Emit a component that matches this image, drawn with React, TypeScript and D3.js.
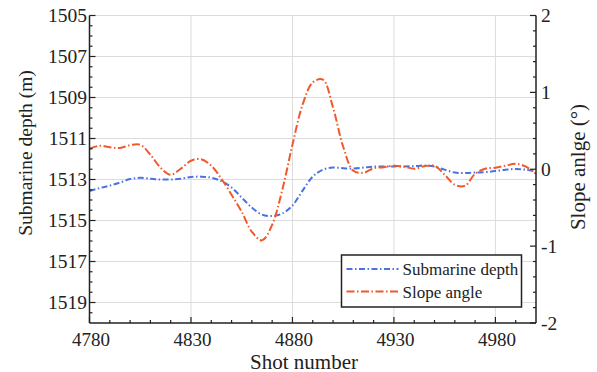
import React from "react";
import * as d3 from "d3";

// Shot numbers sampled every 5 shots along the profile
const shots: number[] = [
  4780, 4785, 4790, 4795, 4800, 4805, 4810, 4815, 4820, 4825,
  4830, 4835, 4840, 4845, 4850, 4855, 4860, 4865, 4870, 4875,
  4880, 4885, 4890, 4895, 4900, 4905, 4910, 4915, 4920, 4925,
  4930, 4935, 4940, 4945, 4950, 4955, 4960, 4965, 4970, 4975,
  4980, 4985, 4990, 4995, 5000,
];

// Submarine depth (m), left axis
const depth: number[] = [
  1513.56, 1513.42, 1513.3, 1513.15, 1512.98, 1512.92, 1512.96, 1513.0, 1513.0, 1512.96,
  1512.88, 1512.86, 1512.91, 1513.08, 1513.39, 1513.88, 1514.37, 1514.71, 1514.78, 1514.66,
  1514.27, 1513.54, 1512.86, 1512.52, 1512.42, 1512.45, 1512.47, 1512.42, 1512.37, 1512.37,
  1512.36, 1512.36, 1512.35, 1512.32, 1512.37, 1512.52, 1512.66, 1512.68, 1512.66, 1512.64,
  1512.59, 1512.52, 1512.49, 1512.52, 1512.62,
];

// Slope angle (°), right axis
const slope: number[] = [
  0.267, 0.306, 0.287, 0.276, 0.313, 0.319, 0.189, 0.02, -0.072, 0.007,
  0.111, 0.13, 0.046, -0.124, -0.332, -0.554, -0.814, -0.925, -0.723, -0.267,
  0.319, 0.84, 1.13, 1.166, 0.801, 0.293, -0.02, -0.046, 0.013, 0.026,
  0.046, 0.033, 0.007, 0.039, 0.046, -0.072, -0.202, -0.215, -0.059, 0.007,
  0.02, 0.046, 0.072, 0.033, -0.059,
];

const xTicks: number[] = [4780, 4830, 4880, 4930, 4980];
const depthTicks: number[] = [1505, 1507, 1509, 1511, 1513, 1515, 1517, 1519];
const slopeTicks: number[] = [2, 1, 0, -1, -2];

const seriesNames: string[] = ["Submarine depth", "Slope angle"];

const W = 597;
const H = 372;
const left = 89.5;
const right = 536;
const top = 15.5;
const bottom = 323;

const FONT = "'Liberation Serif', 'Times New Roman', serif";
const INK = "#222";
const BLUE = "#4a72e0";
const RED = "#f0592a";

export default function App() {
  const x = d3.scaleLinear().domain([4780, 5000]).range([left, right]);
  const yL = d3.scaleLinear().domain([1505, 1520]).range([top, bottom]);
  const yR = d3.scaleLinear().domain([2, -2]).range([top, bottom]);

  const idx = d3.range(shots.length);
  const depthLine = d3
    .line<number>()
    .x((i) => x(shots[i]))
    .y((i) => yL(depth[i]))
    .curve(d3.curveCatmullRom.alpha(0.5));
  const slopeLine = d3
    .line<number>()
    .x((i) => x(shots[i]))
    .y((i) => yR(slope[i]))
    .curve(d3.curveCatmullRom.alpha(0.5));

  const xMinor = d3.range(4790, 5000, 10).filter((v) => (v - 4780) % 50 !== 0);
  const lMinor = d3.range(1505.5, 1520, 0.5).filter((v) => Math.abs(((v - 1505) % 2)) > 1e-6);
  const rMinor = d3.range(-1.8, 2, 0.2).filter((v) => Math.abs(v - Math.round(v)) > 1e-6);

  const legX = 341.5;
  const legY = 255;

  return (
    <svg
      width={W}
      height={H}
      style={{ position: "fixed", left: 0, top: 0, background: "#fff" }}
      fontFamily={FONT}
    >
      <rect width={W} height={H} fill="#fff" />
      {/* grid */}
      {depthTicks.map((t) => (
        <line key={"gh" + t} x1={left} x2={right} y1={yL(t)} y2={yL(t)} stroke="#dcdcdc" strokeWidth={1} />
      ))}
      {xTicks.slice(1).map((t) => (
        <line key={"gv" + t} x1={x(t)} x2={x(t)} y1={top} y2={bottom} stroke="#dcdcdc" strokeWidth={1} />
      ))}

      {/* series */}
      <path
        d={depthLine(idx) || ""}
        fill="none"
        stroke={BLUE}
        strokeWidth={2}
        strokeDasharray="6,2.5,1.5,2.5"
      />
      <path
        d={slopeLine(idx) || ""}
        fill="none"
        stroke={RED}
        strokeWidth={2}
        strokeDasharray="8,2.5,1.5,2.5"
      />

      {/* axes frame */}
      <line x1={left} x2={left} y1={top} y2={bottom} stroke={INK} strokeWidth={1.5} />
      <line x1={right} x2={right} y1={top} y2={bottom} stroke={INK} strokeWidth={1.5} />
      <line x1={left} x2={right} y1={bottom} y2={bottom} stroke={INK} strokeWidth={1.5} />

      {/* x ticks */}
      {xTicks.map((t) => (
        <g key={"xt" + t}>
          <line x1={x(t)} x2={x(t)} y1={bottom} y2={bottom - 6} stroke={INK} strokeWidth={1.2} />
          <text x={x(t) + 1.5} y={345.5} textAnchor="middle" fontSize={19} fill={INK}>
            {t}
          </text>
        </g>
      ))}
      {xMinor.map((t) => (
        <line key={"xm" + t} x1={x(t)} x2={x(t)} y1={bottom} y2={bottom - 3} stroke={INK} strokeWidth={1.2} />
      ))}

      {/* left ticks */}
      {depthTicks.map((t) => (
        <g key={"lt" + t}>
          <line x1={left} x2={left + 6} y1={yL(t)} y2={yL(t)} stroke={INK} strokeWidth={1.2} />
          <text x={left - 2.5} y={yL(t) + 6.5} textAnchor="end" fontSize={19.5} fill={INK}>
            {t}
          </text>
        </g>
      ))}
      {lMinor.map((t) => (
        <line key={"lm" + t} x1={left} x2={left + 3} y1={yL(t)} y2={yL(t)} stroke={INK} strokeWidth={1.2} />
      ))}

      {/* right ticks */}
      {slopeTicks.map((t) => (
        <g key={"rt" + t}>
          <line x1={right} x2={right - 6} y1={yR(t)} y2={yR(t)} stroke={INK} strokeWidth={1.2} />
          <text x={right + 5} y={yR(t) + 6.5} textAnchor="start" fontSize={19.5} fill={INK}>
            {t}
          </text>
        </g>
      ))}
      {rMinor.map((t) => (
        <line key={"rm" + t} x1={right} x2={right - 3} y1={yR(t)} y2={yR(t)} stroke={INK} strokeWidth={1.2} />
      ))}

      {/* axis titles */}
      <text x={304} y={368.5} textAnchor="middle" fontSize={21} fill={INK}>
        Shot number
      </text>
      <text
        transform={`translate(32,153) rotate(-90)`}
        textAnchor="middle"
        fontSize={19.5}
        fill={INK}
      >
        Submarine depth (m)
      </text>
      <text
        transform={`translate(585,167) rotate(-90)`}
        textAnchor="middle"
        fontSize={21}
        fill={INK}
      >
        Slope anlge (°)
      </text>

      {/* legend */}
      <rect x={legX} y={legY} width={180} height={52} fill="#fff" stroke={INK} strokeWidth={1.5} />
      <line x1={legX + 5} x2={legX + 57} y1={legY + 14} y2={legY + 14} stroke={BLUE} strokeWidth={2} strokeDasharray="6,2.5,1.5,2.5" />
      <line x1={legX + 5} x2={legX + 57} y1={legY + 36.5} y2={legY + 36.5} stroke={RED} strokeWidth={2} strokeDasharray="8,2.5,1.5,2.5" />
      <text x={legX + 61} y={legY + 20} fontSize={17} fill={INK}>
        {seriesNames[0]}
      </text>
      <text x={legX + 61} y={legY + 42.5} fontSize={17} fill={INK}>
        {seriesNames[1]}
      </text>
    </svg>
  );
}
